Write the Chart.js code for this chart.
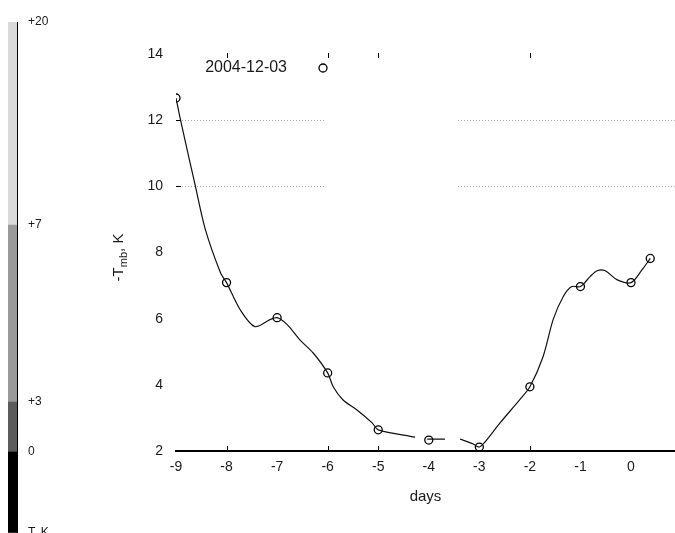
<!DOCTYPE html>
<html>
<head>
<meta charset="utf-8">
<script src="https://cdn.jsdelivr.net/npm/chart.js@4.4.1/dist/chart.umd.min.js"></script>
<style>
  html, body { margin: 0; padding: 0; background: #fff; overflow: hidden; }
  #wrap { position: relative; width: 675px; height: 533px; }
  #main, #bar { position: absolute; left: 0; top: 0; }
</style>
</head>
<body>
<div id="wrap">
  <canvas id="main" width="675" height="533"></canvas>
  <canvas id="bar" width="60" height="533"></canvas>
</div>
<script>
// observed values (circles)
const DAYS = [-9, -8, -7, -6, -5, -4, -3, -2, -1, 0, 0.38];
const TMB = [12.67, 7.09, 6.03, 4.36, 2.64, 2.33, 2.12, 3.94, 6.97, 7.09, 7.82];

// fitted curve (null = break in the line)
const CURVE_X = [-9, -8.91, -8.62, -8.42, -8.12, -8, -7.73, -7.44, -7.14, -7, -6.8, -6.55, -6.29, -6,
  -5.89, -5.7, -5.42, -5.12, -5, -4.27, -4.2, -4.03, -3.68, -3.6, -3.38, -3.12, -3, -2.89, -2.59, -2.2,
  -2, -1.74, -1.54, -1.34, -1.17, -1, -0.81, -0.67, -0.51, -0.28, 0, 0.22, 0.38];
const CURVE_Y = [12.67, 12.0, 10.03, 8.70, 7.39, 7.09, 6.27, 5.76, 5.97, 6.03, 5.82, 5.36, 4.97, 4.36,
  3.94, 3.55, 3.24, 2.85, 2.64, 2.42, null, 2.36, 2.36, null, 2.36, 2.21, 2.12, 2.27, 2.85, 3.55,
  3.94, 4.85, 5.97, 6.67, 6.97, 6.97, 7.27, 7.45, 7.45, 7.18, 7.09, 7.48, 7.82];

const Y_TICKS = [2, 4, 6, 8, 10, 12, 14];
const GRID_VALUES = [10, 12];
const MARKED_X_TICKS = [-8, -6, -5, -2];
const LEGEND_LABEL = '2004-12-03';

// colour bar on the left
const COLORBAR_LABELS = ['T, K', '0', '+3', '+7', '+20'];
const COLORBAR_EDGES = [0, 81, 131, 308, 511];
const COLORBAR_COLORS = ['#000000', '#5c5c5c', '#9a9a9a', '#dadada'];

const FONT = '"Liberation Sans", Arial, sans-serif';
const INK = '#1a1a1a';

const decor = {
  id: 'decor',
  beforeDatasetsDraw(chart) {
    // blank strip behind the key, cuts the dotted grid lines
    const {ctx, scales: {x, y}} = chart;
    const x0 = x.getPixelForValue(-6.03), x1 = x.getPixelForValue(-3.44);
    const y0 = y.getPixelForValue(12.6), y1 = y.getPixelForValue(9.4);
    ctx.save();
    ctx.fillStyle = '#fff';
    ctx.fillRect(x0, y0, x1 - x0, y1 - y0);
    ctx.restore();
  },
  afterDatasetsDraw(chart) {
    const {ctx, chartArea: a, scales: {x, y}} = chart;
    ctx.save();
    ctx.strokeStyle = '#000';
    ctx.lineWidth = 1;
    ctx.beginPath();
    MARKED_X_TICKS.forEach(v => {
      const px = Math.round(x.getPixelForValue(v)) + 0.5;
      ctx.moveTo(px, a.bottom); ctx.lineTo(px, a.bottom - 5);
      ctx.moveTo(px, a.top - 1); ctx.lineTo(px, a.top + 4);
    });
    GRID_VALUES.forEach(v => {
      const py = Math.round(y.getPixelForValue(v)) + 0.5;
      ctx.moveTo(a.left, py); ctx.lineTo(a.left + 5, py);
    });
    ctx.stroke();

    // key
    ctx.fillStyle = INK;
    ctx.font = '16px ' + FONT;
    ctx.textAlign = 'right';
    ctx.textBaseline = 'middle';
    ctx.fillText(LEGEND_LABEL, a.left + 111, a.top + 14);
    ctx.beginPath();
    ctx.lineWidth = 1.3;
    ctx.arc(a.left + 147, a.top + 14, 4, 0, Math.PI * 2);
    ctx.stroke();

    // y title with subscript
    ctx.translate(a.left - 58, (a.top + a.bottom) / 2 + 5);
    ctx.rotate(-Math.PI / 2);
    ctx.textAlign = 'left';
    ctx.textBaseline = 'alphabetic';
    const big = '15px ' + FONT, small = '11px ' + FONT;
    ctx.font = big; const w1 = ctx.measureText('-T').width;
    ctx.font = small; const w2 = ctx.measureText('mb').width;
    ctx.font = big; const w3 = ctx.measureText(', K').width;
    let cx = -(w1 + w2 + w3) / 2;
    ctx.font = big; ctx.fillText('-T', cx, 5); cx += w1;
    ctx.font = small; ctx.fillText('mb', cx, 9); cx += w2;
    ctx.font = big; ctx.fillText(', K', cx, 5);
    ctx.restore();
  }
};

new Chart(document.getElementById('main'), {
  type: 'scatter',
  data: {
    datasets: [
      {
        data: CURVE_X.map((v, i) => ({x: v, y: CURVE_Y[i]})),
        showLine: true,
        spanGaps: false,
        borderColor: '#111',
        borderWidth: 1.2,
        tension: 0.3,
        pointRadius: 0
      },
      {
        data: DAYS.map((v, i) => ({x: v, y: TMB[i]})),
        pointStyle: 'circle',
        pointRadius: 4,
        pointBorderWidth: 1.3,
        pointBorderColor: '#000',
        pointBackgroundColor: 'rgba(0,0,0,0)'
      }
    ]
  },
  options: {
    responsive: false,
    animation: false,
    events: [],
    layout: {autoPadding: false, padding: {top: 54, left: 0, right: 0, bottom: 0}},
    plugins: {legend: {display: false}, tooltip: {enabled: false}},
    scales: {
      x: {
        type: 'linear',
        min: -9,
        max: 0.87,
        ticks: {stepSize: 1, includeBounds: false, color: INK, font: {family: FONT, size: 14}, padding: 8},
        grid: {drawOnChartArea: false, drawTicks: false},
        border: {display: true, color: '#000', width: 2},
        title: {display: true, text: 'days', color: INK, font: {family: FONT, size: 15}, padding: {top: 0, bottom: 27}},
        afterFit(s) { s.height = 82; s.paddingLeft = 0; s.paddingRight = 0; }
      },
      y: {
        type: 'linear',
        min: 2,
        max: 14,
        afterBuildTicks(s) { s.ticks = Y_TICKS.map(v => ({value: v})); },
        ticks: {color: INK, font: {family: FONT, size: 14}, padding: 13},
        grid: {
          drawTicks: false,
          lineWidth: 1,
          color: c => GRID_VALUES.includes(c.tick.value) ? '#a8a8a8' : 'rgba(0,0,0,0)'
        },
        border: {display: false, dash: [1, 2]},
        afterFit(s) { s.width = 176; }
      }
    }
  },
  plugins: [decor]
});

new Chart(document.getElementById('bar'), {
  type: 'bar',
  data: {
    labels: [''],
    datasets: COLORBAR_COLORS.map((c, i) => ({
      data: [[COLORBAR_EDGES[i], COLORBAR_EDGES[i + 1]]],
      backgroundColor: c,
      borderWidth: 0,
      barPercentage: 1,
      categoryPercentage: 1
    }))
  },
  options: {
    responsive: false,
    animation: false,
    events: [],
    layout: {autoPadding: false, padding: {top: 22, left: 8, right: 0, bottom: 0}},
    plugins: {legend: {display: false}, tooltip: {enabled: false}},
    scales: {
      x: {display: false, stacked: true},
      y: {
        position: 'right',
        min: 0,
        max: 511,
        afterBuildTicks(s) { s.ticks = COLORBAR_EDGES.map(v => ({value: v})); },
        ticks: {
          color: INK,
          font: {family: FONT, size: 12},
          padding: 11,
          callback: (v, i) => COLORBAR_LABELS[i]
        },
        grid: {drawOnChartArea: false, drawTicks: false},
        border: {display: true, color: '#000', width: 1},
        afterFit(s) { s.width = 43; s.paddingTop = 0; s.paddingBottom = 0; }
      }
    }
  }
});
</script>
</body>
</html>
